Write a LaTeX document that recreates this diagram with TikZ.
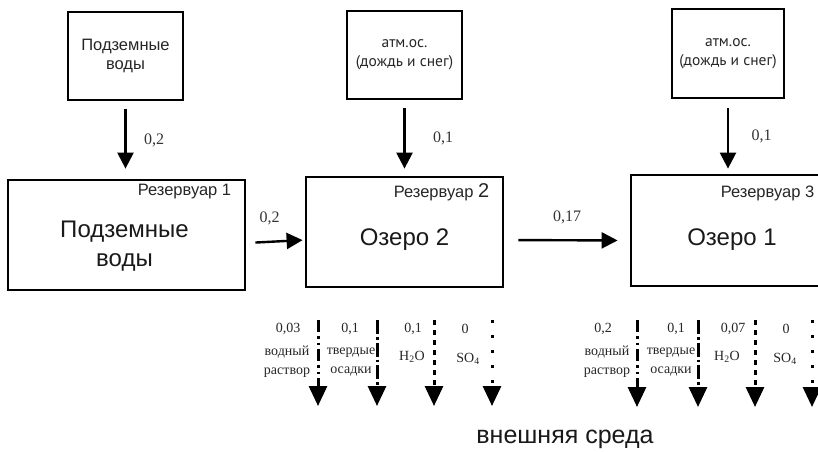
\documentclass[tikz,border=0pt]{standalone}
\usepackage{fontspec}
\setmainfont{Liberation Sans}
\newfontfamily\numfont{Liberation Serif}
\newfontfamily\atmfont{PT Sans}
\usetikzlibrary{arrows.meta}
\usetikzlibrary{calc}

\begin{document}
\begin{tikzpicture}[x=1pt,y=-1pt,
	box/.style={draw, line width=2.8pt, inner sep=0pt, align=center, text=black!85},
	flow/.style={line width=2.4pt, -{Triangle[width=16pt,length=16pt]}},
	outflow/.style={line width=3pt, -{Triangle[width=18pt,length=20pt]}},
	num/.style={font=\numfont\fontsize{16}{18}\selectfont, text=black!80},
	outnum/.style={font=\numfont\fontsize{14}{14}\selectfont, text=black!85, inner sep=0pt},
	outtext/.style={font=\numfont\fontsize{14}{19}\selectfont, text=black!85, align=center, inner sep=0pt},
	restext/.style={font=\fontsize{24}{29}\selectfont, text=black!90, align=center, inner sep=0pt},
	reslabel/.style={font=\fontsize{16.5}{18}\selectfont, text=black!85, anchor=base east, inner sep=0pt}]
	\useasboundingbox (0,0) rectangle (818,451);
	\clip (0,0) rectangle (818,451);

	% Inputs from above
	\begin{scope}
		\node[box, minimum width=115pt, minimum height=88pt, font=\fontsize{16.5}{19}\selectfont] (srcground) at (125.5,56) {Подземные\\воды};
		\node[box, minimum width=115pt, minimum height=88pt, font=\atmfont\fontsize{15.5}{19}\selectfont] (srcraintwo) at (404.5,55) {атм.ос.\\(дождь и снег)};
		\node[box, minimum width=112pt, minimum height=89pt, font=\atmfont\fontsize{15.5}{19}\selectfont] (srcrainone) at (728,53.5) {атм.ос.\\(дождь и снег)};
	\end{scope}

	% Reservoirs
	\begin{scope}
		\node[box, minimum width=237pt, minimum height=110pt] (resone) at (126.5,235) {};
		\node[box, minimum width=197pt, minimum height=110pt] (restwo) at (404.5,232) {};
		\node[box, minimum width=200pt, minimum height=111pt] (resthree) at (731,230.5) {};

		\node[restext] (resonetext) at ($(resone.center)+(-2,11)$) {Подземные\\воды};
		\node[restext] (restwotext) at ($(restwo.center)+(0,8)$) {Озеро 2};
		\node[restext] (resthreetext) at ($(resthree.center)+(1,9)$) {Озеро 1};

		\node[reslabel] (resonelabel) at ($(resone.north east)+(-15,17)$) {Резервуар 1};
		\node[reslabel] (restwolabel) at ($(restwo.north east)+(-15,22)$) {Резервуар {\fontsize{20}{20}\selectfont 2}};
		\node[reslabel] (resthreelabel) at ($(resthree.north east)+(-18,24)$) {Резервуар 3};
	\end{scope}

	% Flows between boxes
	\draw[flow, shorten <=8pt, shorten >=10pt] (srcground.south) -- (srcground.south |- resone.north) node [midway, right=14pt, num] (inone) {0,2};
	\draw[flow, shorten <=8pt, shorten >=7pt] (srcraintwo.south) -- (srcraintwo.south |- restwo.north) node [midway, right=24pt, num] (intwo) {0,1};
	\draw[flow, shorten <=9pt, shorten >=5pt] (srcrainone.south) -- (srcrainone.south |- resthree.north) node [midway, right=19pt, num] (inthree) {0,1};
	\draw[flow, shorten <=9pt, shorten >=2pt] ([yshift=-8pt]resone.east) -- ([yshift=-8pt]restwo.west) node [midway, above=12pt, num, xshift=-6pt] (flowonetwo) {0,2};
	\draw[flow, shorten <=14pt, shorten >=12pt] ([yshift=-8pt]restwo.east) -- ([yshift=-10pt]resthree.west) node [midway, above=12pt, num] (flowtwothree) {0,17};

	% Outflows of lake 2
	\begin{scope}
		\coordinate (twosoltop) at (318,320);
		\coordinate (twosolbottom) at (318,406);
		\coordinate (twosedtop) at (377,320);
		\coordinate (twosedbottom) at (377,406);
		\coordinate (twowatertop) at (434,320);
		\coordinate (twowaterbottom) at (434,406);
		\coordinate (twosulftop) at (492,320);
		\coordinate (twosulfbottom) at (492,406);

		\draw[outflow, dash pattern=on 12pt off 4pt on 2.5pt off 4pt on 2.5pt off 4pt] (twosoltop)--(twosolbottom);
		\draw[outflow, dash pattern=on 14pt off 3pt on 2.5pt off 3pt] (twosedtop)--(twosedbottom);
		\draw[outflow, dash pattern=on 5pt off 5pt] (twowatertop)--(twowaterbottom);
		\draw[outflow, dash pattern=on 2.5pt off 12.5pt] (twosulftop)--(twosulfbottom);

		\node[outnum] (twosolnum) at ($(twosoltop)+(-30,9)$) {0,03};
		\node[outtext] (twosoltext) at ($(twosoltop)+(-31,42)$) {водный\\раствор};
		\node[outnum] (twosednum) at ($(twosedtop)+(-27,9)$) {0,1};
		\node[outtext] (twosedtext) at ($(twosedtop)+(-26,42)$) {твердые\\осадки};
		\node[outnum] (twowaternum) at ($(twowatertop)+(-21,9)$) {0,1};
		\node[outtext] (twowatertext) at ($(twowatertop)+(-22,37)$) {H\textsubscript{2}O};
		\node[outnum] (twosulfnum) at ($(twosulftop)+(-27,9)$) {0};
		\node[outtext] (twosulftext) at ($(twosulftop)+(-24,39)$) {SO\textsubscript{4}};
	\end{scope}

	% Outflows of lake 1
	\begin{scope}
		\coordinate (onesoltop) at (637,320);
		\coordinate (onesolbottom) at (637,407);
		\coordinate (onesedtop) at (698,320);
		\coordinate (onesedbottom) at (698,407);
		\coordinate (onewatertop) at (755,320);
		\coordinate (onewaterbottom) at (755,407);
		\coordinate (onesulftop) at (812,320);
		\coordinate (onesulfbottom) at (812,407);

		\draw[outflow, dash pattern=on 12pt off 4pt on 2.5pt off 4pt on 2.5pt off 4pt] (onesoltop)--(onesolbottom);
		\draw[outflow, dash pattern=on 14pt off 3pt on 2.5pt off 3pt] (onesedtop)--(onesedbottom);
		\draw[outflow, dash pattern=on 5pt off 5pt] (onewatertop)--(onewaterbottom);
		\draw[outflow, dash pattern=on 2.5pt off 12.5pt] (onesulftop)--(onesulfbottom);

		\node[outnum] (onesolnum) at ($(onesoltop)+(-34,9)$) {0,2};
		\node[outtext] (onesoltext) at ($(onesoltop)+(-30,42)$) {водный\\раствор};
		\node[outnum] (onesednum) at ($(onesedtop)+(-22,9)$) {0,1};
		\node[outtext] (onesedtext) at ($(onesedtop)+(-27,42)$) {твердые\\осадки};
		\node[outnum] (onewaternum) at ($(onewatertop)+(-22,9)$) {0,07};
		\node[outtext] (onewatertext) at ($(onewatertop)+(-28,37)$) {H\textsubscript{2}O};
		\node[outnum] (onesulfnum) at ($(onesulftop)+(-26,9)$) {0};
		\node[outtext] (onesulftext) at ($(onesulftop)+(-27,39)$) {SO\textsubscript{4}};
	\end{scope}

	\node[font=\fontsize{25}{30}\selectfont, text=black!90, inner sep=0pt] (outside) at (565,439) {внешняя среда};
\end{tikzpicture}
\end{document}
